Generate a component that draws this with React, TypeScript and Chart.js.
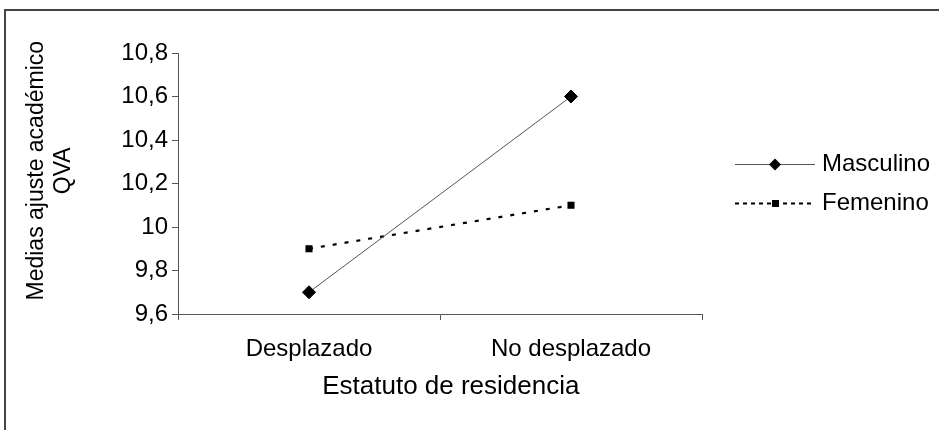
import { useEffect, useRef } from "react";
import { Chart, registerables } from "chart.js";

Chart.register(...registerables);

const categories = ["Desplazado", "No desplazado"];
const seriesNames = ["Masculino", "Femenino"];
const masculino = [9.7, 10.6];
const femenino = [9.9, 10.1];
const yTickValues = [9.6, 9.8, 10, 10.2, 10.4, 10.6, 10.8];
const yTitle = ["    Medias ajuste académico", "    QVA"];
const xTitle = "   Estatuto de residencia";

const FAMILY = "'Liberation Sans', Arial, sans-serif";
const AXIS = "#555555";
const FS = 24;

function fmt(v: number): string {
  return (Math.round(v * 10) / 10).toString().replace(".", ",");
}

function makeLegendIcon(kind: "m" | "f"): HTMLCanvasElement {
  const c = document.createElement("canvas");
  c.width = 103;
  c.height = 16;
  const ctx = c.getContext("2d")!;
  const y = 8.5;
  const cx = 63;
  if (kind === "m") {
    ctx.strokeStyle = AXIS;
    ctx.lineWidth = 1;
    ctx.beginPath();
    ctx.moveTo(23, y);
    ctx.lineTo(103, y);
    ctx.stroke();
    ctx.fillStyle = "#000";
    ctx.beginPath();
    ctx.moveTo(cx, y - 6);
    ctx.lineTo(cx + 6, y);
    ctx.lineTo(cx, y + 6);
    ctx.lineTo(cx - 6, y);
    ctx.closePath();
    ctx.fill();
  } else {
    ctx.strokeStyle = "#000";
    ctx.lineWidth = 2;
    ctx.setLineDash([4, 4]);
    ctx.beginPath();
    ctx.moveTo(23, y);
    ctx.lineTo(103, y);
    ctx.stroke();
    ctx.setLineDash([]);
    ctx.fillStyle = "#000";
    ctx.fillRect(cx - 3, y - 3.5, 7, 7);
  }
  return c;
}

export default function App() {
  const ref = useRef<HTMLCanvasElement>(null);

  useEffect(() => {
    const icons = [makeLegendIcon("m"), makeLegendIcon("f")];
    const font = { size: FS, family: FAMILY };
    const chart = new Chart(ref.current!, {
      type: "line",
      data: {
        labels: categories,
        datasets: [
          {
            label: seriesNames[0],
            data: masculino,
            borderColor: AXIS,
            borderWidth: 1,
            pointStyle: "rectRot",
            pointRadius: 6.5,
            pointBackgroundColor: "#000",
            pointBorderColor: "#000",
            pointBorderWidth: 1,
            fill: false,
            tension: 0,
          },
          {
            label: seriesNames[1],
            data: femenino,
            borderColor: "#000",
            borderWidth: 2.2,
            borderDash: [4, 8],
            pointStyle: "rect",
            pointRadius: 5,
            pointBackgroundColor: "#000",
            pointBorderColor: "#000",
            pointBorderWidth: 0,
            fill: false,
            tension: 0,
          },
        ],
      },
      options: {
        animation: false,
        responsive: false,
        events: [],
        layout: { padding: { left: 0, top: 53, right: 0, bottom: 16 } },
        plugins: {
          tooltip: { enabled: false },
          legend: {
            position: "right",
            fullSize: false,
            maxWidth: 237,
            labels: {
              usePointStyle: true,
              pointStyleWidth: 93,
              padding: 15,
              color: "#000",
              font,
              generateLabels: (ch: any) =>
                ch.data.datasets.map((ds: any, i: number) => ({
                  text: ds.label,
                  pointStyle: icons[i],
                  fillStyle: "transparent",
                  strokeStyle: "transparent",
                  lineWidth: 0,
                  hidden: false,
                  datasetIndex: i,
                  fontColor: "#000",
                })),
            },
          },
        },
        scales: {
          x: {
            type: "category",
            offset: true,
            grid: {
              offset: true,
              drawOnChartArea: false,
              drawTicks: true,
              tickLength: 6,
              color: AXIS,
            },
            border: { color: AXIS },
            ticks: { font, color: "#000", padding: 15 },
            title: {
              display: true,
              text: xTitle,
              font: { size: 26, family: FAMILY },
              color: "#000",
              padding: { top: 0, bottom: 12 },
            },
            afterFit: (s: any) => {
              s.height = 100;
            },
          },
          y: {
            min: 9.6,
            max: 10.8,
            afterBuildTicks: (s: any) => {
              s.ticks = yTickValues.map((v) => ({ value: v }));
            },
            grid: {
              drawOnChartArea: false,
              drawTicks: true,
              tickLength: 6,
              color: AXIS,
            },
            border: { color: AXIS },
            ticks: {
              font,
              color: "#000",
              padding: 4,
              callback: (v: any) => fmt(Number(v)),
            },
            title: {
              display: true,
              text: yTitle,
              font: { size: 23, family: FAMILY, lineHeight: 1.17 },
              color: "#000",
              padding: { top: 23.5, bottom: 0 },
            },
            afterFit: (s: any) => {
              s.width = 178;
            },
          },
        },
      },
    } as any);
    return () => chart.destroy();
  }, []);

  return (
    <div
      style={{
        position: "absolute",
        left: 0,
        top: 0,
        width: 939,
        height: 430,
        overflow: "hidden",
        background: "#fff",
      }}
    >
      <div
        style={{
          position: "absolute",
          left: 4,
          top: 9,
          width: 980,
          height: 470,
          border: "2px solid #444",
        }}
      />
      <canvas
        ref={ref}
        width={939}
        height={430}
        style={{ position: "absolute", left: 0, top: 0, width: 939, height: 430 }}
      />
    </div>
  );
}
